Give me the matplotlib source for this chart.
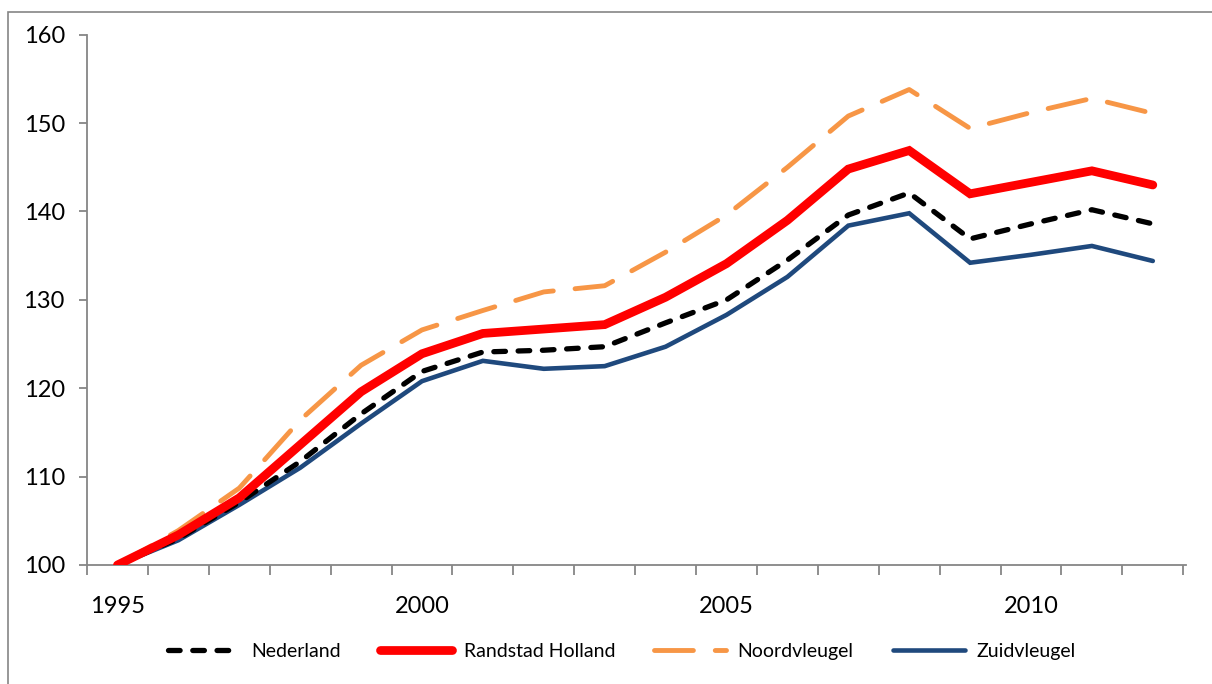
import matplotlib.pyplot as plt
from matplotlib.patches import Rectangle

years = list(range(1995, 2013))
nederland = [100, 103.0, 107.1, 111.7, 117.1, 121.9, 124.1, 124.3, 124.7, 127.4,
             130.0, 134.5, 139.6, 142.1, 136.9, 138.6, 140.2, 138.6]
randstad = [100, 103.4, 107.6, 113.6, 119.6, 123.9, 126.2, 126.7, 127.2, 130.3,
            134.1, 139.0, 144.8, 146.9, 142.0, 143.3, 144.6, 143.0]
noordvleugel = [100, 103.9, 108.7, 116.4, 122.6, 126.6, 128.8, 130.9, 131.6, 135.4,
                139.6, 145.0, 150.8, 153.8, 149.4, 151.2, 152.8, 151.1]
zuidvleugel = [100, 102.8, 106.8, 111.0, 116.0, 120.8, 123.1, 122.2, 122.5, 124.7,
               128.3, 132.6, 138.4, 139.8, 134.2, 135.1, 136.1, 134.4]
year_labels = [1995, 2000, 2005, 2010]

plt.rcParams['font.family'] = ['Lato', 'DejaVu Sans']

fig = plt.figure(figsize=(12.12, 6.84), dpi=100)
ax = fig.add_axes([0.0718, 0.174, 0.907, 0.7752])

# chart frame
fig.patches.append(Rectangle((8 / 1212, -0.05), 1.2, 1 - 12 / 684 + 0.05,
                             transform=fig.transFigure, fill=False,
                             edgecolor='#858585', linewidth=1.2, zorder=0))

ax.plot(years, nederland, color='black', lw=3.8, dashes=(2.2, 2.4),
        dash_capstyle='round', solid_capstyle='round', label='Nederland', zorder=3)
ax.plot(years, randstad, color='#FF0000', lw=6.3, solid_capstyle='round',
        solid_joinstyle='miter', label='Randstad Holland', zorder=4)
ax.plot(years, noordvleugel, color='#F79646', lw=3.5, dashes=(8, 4.5),
        dash_capstyle='round', label='Noordvleugel', zorder=2)
ax.plot(years, zuidvleugel, color='#1F497D', lw=3.3, solid_capstyle='round',
        solid_joinstyle='miter', label='Zuidvleugel', zorder=2)

ax.set_xlim(1994.5, 2012.55)
ax.set_ylim(100, 160)
ax.set_yticks(range(100, 161, 10))
ax.set_xticks(year_labels)
ax.set_xticks([y - 0.5 for y in years] + [2012.5], minor=True)

for s in ['top', 'right']:
    ax.spines[s].set_visible(False)
for s in ['left', 'bottom']:
    ax.spines[s].set_color('#868686')
    ax.spines[s].set_linewidth(1.3)

ax.tick_params(axis='y', direction='out', length=6, width=1.3, color='#868686',
               labelsize=17, pad=10)
ax.tick_params(axis='x', which='major', length=0, labelsize=17, pad=22)
ax.tick_params(axis='x', which='minor', direction='out', length=7, width=1.3,
               color='#868686')

fig.legend(loc='center', bbox_to_anchor=(0.513, 0.048), ncol=4, frameon=False,
           fontsize=14, handlelength=3.7, handletextpad=0.6, columnspacing=2.0)

fig.savefig('out.png', dpi=100)
